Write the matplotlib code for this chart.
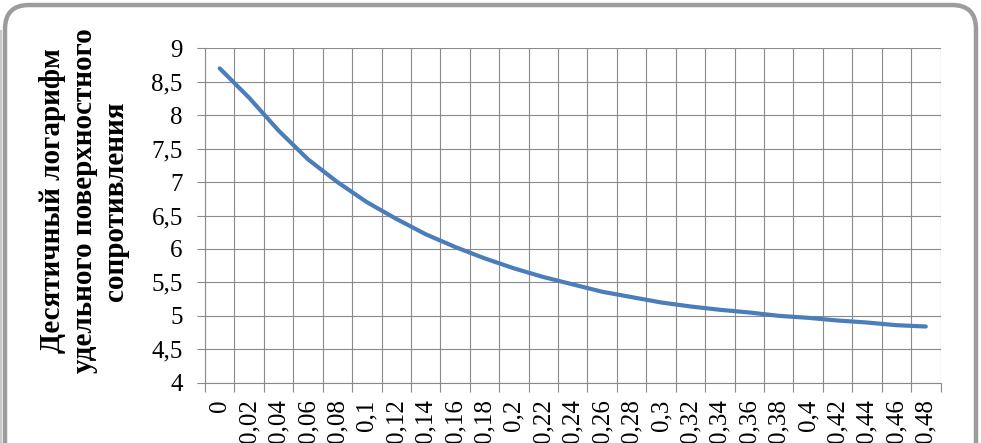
import matplotlib
matplotlib.use('Agg')
import matplotlib.pyplot as plt
from matplotlib.patches import FancyBboxPatch
from matplotlib.ticker import FixedLocator, MultipleLocator, FuncFormatter

# доли (категории по оси X) и десятичный логарифм сопротивления
kategorie = ['0', '0,02', '0,04', '0,06', '0,08', '0,1', '0,12', '0,14', '0,16', '0,18',
             '0,2', '0,22', '0,24', '0,26', '0,28', '0,3', '0,32', '0,34', '0,36', '0,38',
             '0,4', '0,42', '0,44', '0,46', '0,48']
wartosci = [8.70, 8.26, 7.77, 7.34, 7.00, 6.70, 6.45, 6.22, 6.03, 5.86,
            5.71, 5.58, 5.47, 5.36, 5.28, 5.20, 5.14, 5.09, 5.05, 5.00,
            4.97, 4.93, 4.90, 4.86, 4.84]
opis_y = 'Десятичный логарифм\nудельного поверхностного\nсопротивления'

W, H = 981, 443
fig = plt.figure(figsize=(W / 100, H / 100), dpi=100)
fig.patch.set_facecolor('white')

# ramka z zaokraglonymi rogami (tlo)
tlo = fig.add_axes([0, 0, 1, 1], zorder=0)
tlo.set_xlim(0, W)
tlo.set_ylim(H, 0)
tlo.axis('off')
ramka = FancyBboxPatch((5, 5), W - 10, H + 40, boxstyle='round,pad=0,rounding_size=24',
                       facecolor='white', edgecolor='#9c9c9c', linewidth=3.2)
tlo.add_patch(ramka)
tlo.add_patch(FancyBboxPatch((-10, 30), 12, H, boxstyle='square,pad=0',
                             facecolor='#c8c8c8', edgecolor='none'))

ax = fig.add_axes([205 / W, 1 - 382.7 / H, (940.5 - 205) / W, (382.7 - 48.3) / H], zorder=1)
ax.patch.set_alpha(0)

x = list(range(len(kategorie)))
ax.plot(x, wartosci, color='#4a7ebb', linewidth=3.0, solid_capstyle='round', zorder=3)

ax.set_xlim(-0.5, len(kategorie) - 0.5)
ax.set_ylim(4, 9)

kolor_siatki = '#8a8a8a'
ax.xaxis.set_major_locator(FixedLocator(x))
ax.set_xticklabels(kategorie, rotation=90, fontsize=18, family='Liberation Serif')
ax.xaxis.set_minor_locator(FixedLocator([i - 0.5 for i in range(len(kategorie) + 1)]))
ax.tick_params(axis='x', which='major', length=0, pad=12)
ax.tick_params(axis='x', which='minor', length=6.5, width=0.8, color=kolor_siatki)
ax.grid(True, axis='x', which='minor', color=kolor_siatki, linewidth=0.8)

ax.yaxis.set_major_locator(MultipleLocator(0.5))
ax.yaxis.set_major_formatter(FuncFormatter(lambda v, p: ('%g' % v).replace('.', ',')))
ax.tick_params(axis='y', length=6, width=0.8, color=kolor_siatki, pad=10, labelsize=18)
for t in ax.get_yticklabels():
    t.set_family('Liberation Serif')
ax.grid(True, axis='y', which='major', color=kolor_siatki, linewidth=0.8)

for s in ['top', 'right']:
    ax.spines[s].set_visible(False)
for s in ['left', 'bottom']:
    ax.spines[s].set_color(kolor_siatki)
    ax.spines[s].set_linewidth(0.8)

fig.text(84 / W, 1 - 201 / H, opis_y, rotation=90, ha='center', va='center',
         multialignment='center', fontsize=21, fontweight='bold',
         family='Liberation Serif', linespacing=1.2)

fig.savefig('out.png', dpi=100)
